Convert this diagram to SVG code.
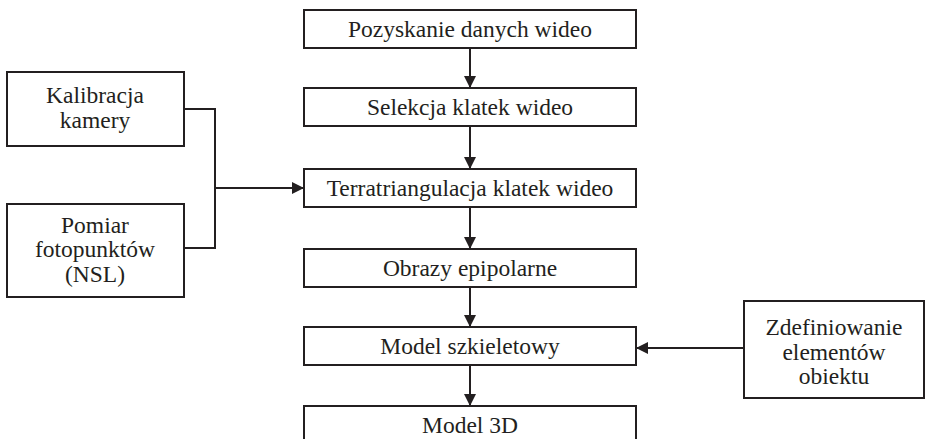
<svg xmlns="http://www.w3.org/2000/svg" width="925" height="439" viewBox="0 0 925 439">
<style>
.box{fill:#fff;stroke:#231f20;stroke-width:2}
.t{font-family:'Liberation Serif','DejaVu Serif',serif;font-size:23.5px;fill:#231f20;text-anchor:middle}
.c{fill:none;stroke:#231f20;stroke-width:2}
</style>
<defs>
<marker id="ah" viewBox="0 0 12 12" refX="12" refY="6" markerWidth="12" markerHeight="12" markerUnits="userSpaceOnUse" orient="auto">
<path d="M0,0 L12,6 L0,12 Z" fill="#231f20"/>
</marker>
</defs>
<rect width="925" height="439" fill="#fff"/>
<g id="connectors">
<line class="c" x1="470" y1="48" x2="470" y2="88" marker-end="url(#ah)"/>
<line class="c" x1="470" y1="126" x2="470" y2="169" marker-end="url(#ah)"/>
<line class="c" x1="470" y1="207" x2="470" y2="249" marker-end="url(#ah)"/>
<line class="c" x1="470" y1="287" x2="470" y2="327" marker-end="url(#ah)"/>
<line class="c" x1="470" y1="365" x2="470" y2="406" marker-end="url(#ah)"/>
<polyline class="c" points="184,109 215,109 215,248 184,248"/>
<line class="c" x1="215" y1="188" x2="304" y2="188" marker-end="url(#ah)"/>
<line class="c" x1="744" y1="348" x2="636" y2="348" marker-end="url(#ah)"/>
</g>
<g id="n1"><rect class="box" x="304" y="10" width="332" height="38"/><text class="t" x="470" y="37">Pozyskanie danych wideo</text></g>
<g id="n2"><rect class="box" x="304" y="88" width="332" height="38"/><text class="t" x="470" y="115">Selekcja klatek wideo</text></g>
<g id="n3"><rect class="box" x="304" y="169" width="332" height="38"/><text class="t" x="470" y="196">Terratriangulacja klatek wideo</text></g>
<g id="n4"><rect class="box" x="304" y="249" width="332" height="38"/><text class="t" x="470" y="276">Obrazy epipolarne</text></g>
<g id="n5"><rect class="box" x="304" y="327" width="332" height="38"/><text class="t" x="470" y="354">Model szkieletowy</text></g>
<g id="n6"><rect class="box" x="304" y="406" width="332" height="38"/><text class="t" x="470" y="433">Model 3D</text></g>
<g id="n7"><rect class="box" x="7" y="72" width="177" height="74"/><text class="t" x="95" y="103">Kalibracja</text><text class="t" x="95" y="128">kamery</text></g>
<g id="n8"><rect class="box" x="7" y="204" width="177" height="93"/><text class="t" x="95" y="233">Pomiar</text><text class="t" x="95" y="257">fotopunktów</text><text class="t" x="95" y="282">(NSL)</text></g>
<g id="n9"><rect class="box" x="744" y="301" width="180" height="97"/><text class="t" x="834" y="335">Zdefiniowanie</text><text class="t" x="834" y="360">elementów</text><text class="t" x="834" y="384">obiektu</text></g>
</svg>
